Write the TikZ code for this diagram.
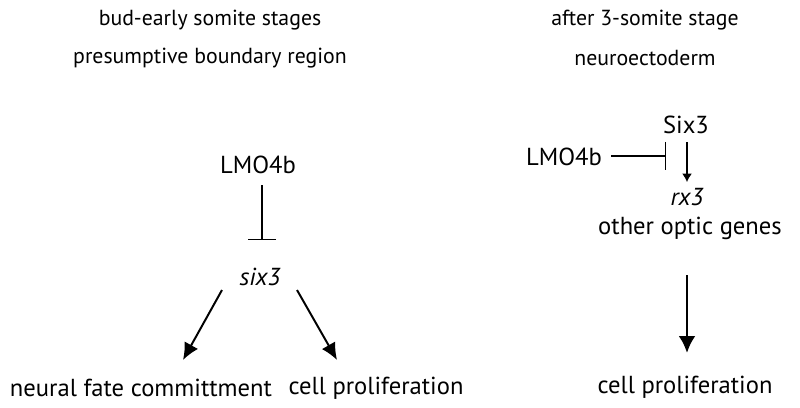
\documentclass[tikz,border=0pt]{standalone}
\usepackage{fontspec}
\setmainfont{PT Sans}
\usetikzlibrary{calc,arrows.meta}
\tikzset{
  head/.style={inner sep=0pt, font=\fontsize{15.5}{18}\selectfont},
  lbl/.style={inner sep=0pt, font=\fontsize{17.5}{20}\selectfont},
  gene/.style={inner sep=0pt, font=\fontsize{17.5}{20}\selectfont\itshape},
  inhib/.style={-{Bar[width=20pt]}, line width=0.9pt},
  act/.style={-{Latex[length=12pt,width=11pt]}, line width=1.4pt},
}
\begin{document}
\begin{tikzpicture}[x=0.025cm, y=-0.025cm]
    \useasboundingbox (0,0) rectangle (800,407);
    % left panel
    \node[head] (stageL) at (210,20) {bud-early somite stages};
    \node[head] (regionL) at (210,58) {presumptive boundary region};
    \node[lbl] (lmoL) at (258,165) {LMO4b};
    \node[gene] (sixL) at (260,277) {six3};
    \node[lbl] (neural) at (141,388) {neural fate committment};
    \node[lbl] (prolL) at (376,388) {cell proliferation};
    \draw[inhib] ($(lmoL)+(4,20)$) -- ($(sixL)+(2,-37)$);
    \draw[act] ($(sixL)+(-38,13)$) -- ($(neural)+(42,-28)$);
    \draw[act] ($(sixL)+(37,13)$) -- ($(prolL)+(-39,-28)$);
    % right panel
    \node[head] (stageR) at (645,20) {after 3-somite stage};
    \node[head] (regionR) at (645,58) {neuroectoderm};
    \node[lbl] (sixR) at (686,125) {Six3};
    \node[lbl] (lmoR) at (564,157) {LMO4b};
    \node[gene] (rx) at (687,197) {rx3};
    \node[lbl] (optic) at (690,228) {other optic genes};
    \node[lbl] (prolR) at (685,387) {cell proliferation};
    \draw[inhib] ($(lmoR)+(47,-1)$) -- ($(lmoR)+(102,-1)$);
    \draw[-{Latex[length=6pt,width=7pt]}, line width=0.8pt] ($(sixR)+(1,17)$) -- ($(rx)+(0,-15)$);
    \draw[-{Latex[length=12pt,width=12pt]}, line width=2.1pt] ($(optic)+(-3,47)$) -- ($(prolR)+(2,-34)$);
\end{tikzpicture}
\end{document}
